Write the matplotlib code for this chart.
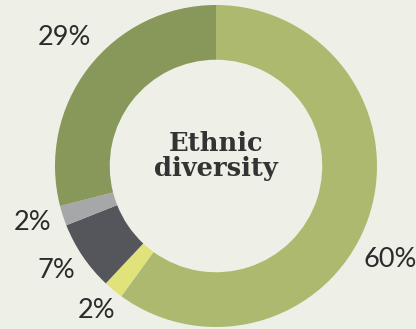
import matplotlib
matplotlib.use("Agg")
import matplotlib.pyplot as plt

# Ethnic diversity shares, clockwise from the top
labels = ["60%", "2%", "7%", "2%", "29%"]
shares = [60, 2, 7, 2, 29]
colors = ["#adb96e", "#dfe37a", "#55565b", "#a6a7a8", "#87985a"]

# label spots, in units of the outer radius
label_x = [1.08, -0.74, -0.99, -1.14, -0.94]
label_y = [-0.58, -0.90, -0.65, -0.35, 0.80]

bg = "#eeefe6"
fig = plt.figure(figsize=(4.16, 3.29), dpi=100, facecolor=bg)
ax = fig.add_axes([0, 0, 1, 1])
ax.set_facecolor(bg)

ax.pie(shares, colors=colors, startangle=90, counterclock=False,
       radius=1.0, wedgeprops=dict(width=0.34, linewidth=0))

for lab, x, y in zip(labels, label_x, label_y):
    ax.text(x, y, lab, ha="center", va="center", fontsize=19.5,
            family="Lato", color="#2b2b2b")

ax.text(0, 0.06, "Ethnic\ndiversity", ha="center", va="center",
        fontsize=18.5, family="DejaVu Serif", weight="bold",
        color="#333333", linespacing=1.0)

ax.set_xlim(-216 / 161, 200 / 161)
ax.set_ylim(-163 / 161, 166 / 161)
ax.set_aspect("auto")
ax.axis("off")

fig.savefig("out.png", dpi=100, facecolor=bg)
